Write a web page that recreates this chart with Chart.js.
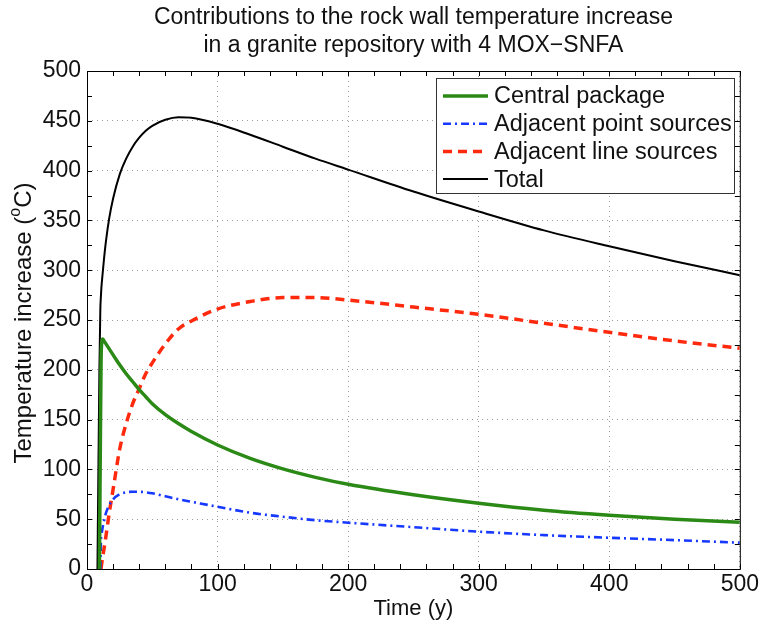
<!DOCTYPE html>
<html>
<head>
<meta charset="utf-8">
<script src="https://cdn.jsdelivr.net/npm/chart.js@4.4.0/dist/chart.umd.min.js"></script>
<style>
  html, body { margin: 0; padding: 0; background: #fff; }
</style>
</head>
<body>
<canvas id="tempChart" width="761" height="627"></canvas>
<script>
// values (time in years, temperature increase in degC)
const years          = [8, 9.5, 10.2, 10.7, 11, 12, 13, 14.5, 17, 20, 25, 30, 35, 40, 45, 50, 60, 70, 80, 100, 125, 150, 175, 200, 250, 300, 350, 400, 450, 500];
const centralPackage = [null, 0, 120, 200, 222, 231, 229, 226, 221, 215, 205, 196, 188, 180, 173, 166, 155, 146, 138, 124.5, 111, 100.5, 92, 85, 74.5, 66, 59, 54, 50, 47];
const pointSources   = [null, null, 0, 29, 33, 42, 48, 56, 64, 70, 75, 77, 77.6, 77.5, 77, 76, 73, 70, 67.5, 62.5, 56.5, 52.5, 49, 46.5, 42, 37.5, 34, 31.4, 29, 26.4];
const lineSources    = [null, null, null, 0, 3, 12, 20, 33, 56, 80, 120, 146, 166, 181, 196, 207, 226, 241, 249, 261, 268.5, 272.5, 272.5, 270, 263, 255.7, 246.7, 237.6, 229, 221.6];
const totalIncrease  = [0, 200, 260, 275, 282, 297, 311, 329, 352, 372, 396, 412, 424, 433, 440, 445, 451, 453.5, 453, 447, 436, 424, 412, 401, 379, 359, 340, 324, 309, 295];

const seriesNames = ['Central package', 'Adjacent point sources', 'Adjacent line sources', 'Total'];
const xTicks = [0, 100, 200, 300, 400, 500];
const yTicks = [0, 50, 100, 150, 200, 250, 300, 350, 400, 450, 500];

const FONT = "'Liberation Sans', Arial, Helvetica, sans-serif";

// pair years with values, skipping points before a series starts
function toPoints(values) {
  const pts = [];
  values.forEach((v, i) => {
    if (v !== null) pts.push({ x: years[i], y: v });
  });
  return pts;
}

const styles = [
  { color: '#2b8a16', width: 3.5, dash: [] },
  { color: '#1638ff', width: 2.6, dash: [8, 4, 2, 4] },
  { color: '#ff2a0e', width: 3.5, dash: [9, 6] },
  { color: '#000000', width: 2, dash: [] }
];

const allSeries = [centralPackage, pointSources, lineSources, totalIncrease];

const datasets = allSeries.map((values, i) => ({
  label: seriesNames[i],
  data: toPoints(values),
  borderColor: styles[i].color,
  borderWidth: styles[i].width,
  borderDash: styles[i].dash,
  pointRadius: 0,
  fill: false,
  cubicInterpolationMode: 'monotone'
}));

// frame, inward ticks, titles and legend in the MATLAB look
const decorPlugin = {
  id: 'decor',
  afterDatasetsDraw(chart) {
    const { ctx, chartArea: a, scales } = chart;
    ctx.save();
    ctx.strokeStyle = '#000';
    ctx.lineWidth = 1;
    ctx.setLineDash([]);
    ctx.strokeRect(a.left + 0.5, a.top + 0.5, a.right - a.left, a.bottom - a.top);

    ctx.beginPath();
    for (let v = 0; v <= 500; v += 20) {
      const px = Math.round(scales.x.getPixelForValue(v)) + 0.5;
      ctx.moveTo(px, a.bottom); ctx.lineTo(px, a.bottom - 5);
      ctx.moveTo(px, a.top); ctx.lineTo(px, a.top + 5);
    }
    for (let v = 0; v <= 500; v += 25) {
      const py = Math.round(scales.y.getPixelForValue(v)) + 0.5;
      ctx.moveTo(a.left, py); ctx.lineTo(a.left + 5, py);
      ctx.moveTo(a.right, py); ctx.lineTo(a.right - 5, py);
    }
    ctx.stroke();
    ctx.restore();
  },
  afterDraw(chart) {
    const { ctx, chartArea: a } = chart;
    const cx = (a.left + a.right) / 2;
    ctx.save();
    ctx.fillStyle = '#111';
    ctx.textAlign = 'center';
    ctx.textBaseline = 'middle';

    // title
    ctx.font = '23px ' + FONT;
    ctx.fillText('Contributions to the rock wall temperature increase', cx, 18);
    ctx.fillText('in a granite repository with 4 MOX\u2212SNFA', cx, 45.5);

    // x axis title
    ctx.font = '22px ' + FONT;
    ctx.fillText('Time (y)', cx, 609);

    // y axis title with raised small o
    ctx.translate(24, 323);
    ctx.rotate(-Math.PI / 2);
    const big = '24px ' + FONT, small = '16px ' + FONT;
    const p1 = 'Temperature increase (', p3 = 'C)';
    ctx.font = big;
    const w1 = ctx.measureText(p1).width, w3 = ctx.measureText(p3).width;
    ctx.font = small;
    const w2 = ctx.measureText('o').width;
    let x0 = -(w1 + w2 + w3) / 2;
    ctx.textAlign = 'left';
    ctx.font = big;
    ctx.fillText(p1, x0, 0);
    ctx.font = small;
    ctx.fillText('o', x0 + w1, -8);
    ctx.font = big;
    ctx.fillText(p3, x0 + w1 + w2, 0);
    ctx.restore();

    // legend box
    ctx.save();
    const bx = 436.5, by = 78.5, bw = 298, bh = 115;
    ctx.fillStyle = '#fff';
    ctx.fillRect(bx, by, bw, bh);
    ctx.strokeStyle = '#333';
    ctx.lineWidth = 1;
    ctx.strokeRect(bx, by, bw, bh);
    ctx.font = '23.5px ' + FONT;
    ctx.textAlign = 'left';
    ctx.textBaseline = 'middle';
    seriesNames.forEach((name, i) => {
      const y = 96 + i * 27.7;
      ctx.strokeStyle = styles[i].color;
      ctx.lineWidth = styles[i].width;
      ctx.setLineDash(styles[i].dash);
      ctx.beginPath();
      ctx.moveTo(443, y);
      ctx.lineTo(488, y);
      ctx.stroke();
      ctx.fillStyle = '#111';
      ctx.fillText(name, 494, y + 1);
    });
    ctx.restore();
  }
};

const config = {
  type: 'line',
  data: { datasets: datasets },
  options: {
    responsive: false,
    animation: false,
    layout: { padding: { top: 71, right: 20, left: 0, bottom: 0 } },
    plugins: {
      legend: { display: false },
      title: { display: false },
      tooltip: { enabled: false }
    },
    scales: {
      x: {
        type: 'linear',
        min: 0,
        max: 500,
        afterFit: (scale) => { scale.height = 58; },
        afterBuildTicks: (scale) => { scale.ticks = xTicks.map(v => ({ value: v })); },
        ticks: {
          color: '#111',
          font: { size: 23, family: FONT },
          padding: 2,
          maxRotation: 0,
          autoSkip: false
        },
        grid: { color: '#9a9a9a', lineWidth: 1, drawTicks: false },
        border: { display: false, dash: [1, 4] }
      },
      y: {
        min: 0,
        max: 500,
        afterFit: (scale) => { scale.width = 87; },
        afterBuildTicks: (scale) => { scale.ticks = yTicks.map(v => ({ value: v })); },
        ticks: {
          color: '#111',
          font: { size: 23, family: FONT },
          padding: 6
        },
        grid: { color: '#9a9a9a', lineWidth: 1, drawTicks: false },
        border: { display: false, dash: [1, 4] }
      }
    }
  },
  plugins: [decorPlugin]
};

window.addEventListener('DOMContentLoaded', () => {
  const ctx = document.getElementById('tempChart');
  new Chart(ctx, config);
});
</script>
</body>
</html>
